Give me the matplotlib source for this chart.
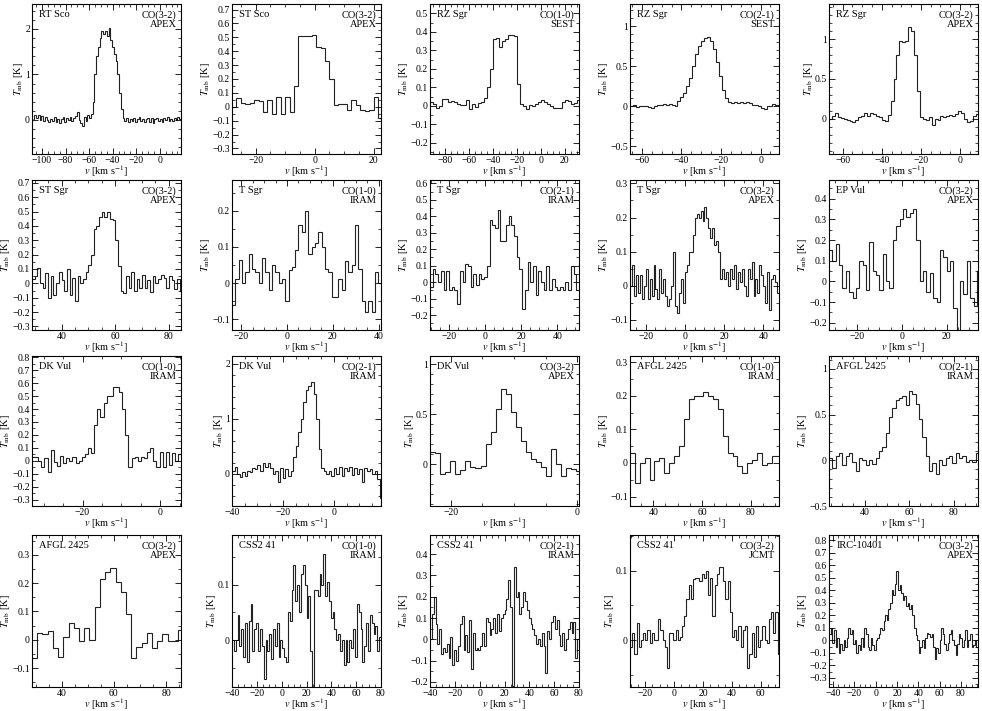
import numpy as np
import matplotlib
matplotlib.use("Agg")
import matplotlib.pyplot as plt
from matplotlib.ticker import MultipleLocator, AutoMinorLocator, FuncFormatter

plt.rcParams["font.family"] = ["Liberation Serif", "DejaVu Serif"]
plt.rcParams["mathtext.fontset"] = "stix"

# ---- spectra (T_mb in K, one value per channel) ----
rtsco_32 = [0.02, 0.1, 0.05, 0.1, 0.0, 0.08, -0.02, 0.06, 0.0, -0.05, 0.03, -0.02, 0.07, -0.04,
            0.02, -0.06, 0.01, 0.06, -0.04, 0.05, -0.01, 0.07, -0.03, 0.05, 0.08, 0.18, 0.0, -0.06,
            -0.13, 0.06, -0.02, 0.1, 0.04, 0.12, 0.4, 1.0, 1.4, 1.6, 1.8, 1.95, 1.9, 1.95, 1.85, 2.02,
            1.75, 1.6, 1.45, 1.3, 1.0, 0.6, 0.25, 0.05, -0.02, 0.05, -0.04, 0.03, -0.02, 0.04, -0.05,
            0.02, 0.06, -0.03, 0.03, -0.05, 0.02, 0.05, -0.04, 0.04, -0.06, 0.01, 0.05, -0.03, 0.02,
            -0.05, 0.04, 0.0, 0.06, -0.03, 0.03, -0.02, 0.05, 0.0, 0.07, 0.02]
stsco_32 = [0.0, 0.06, 0.03, 0.02, 0.03, 0.05, 0.04, -0.04, 0.05, -0.05, 0.07, -0.05, 0.07, -0.04,
            0.15, 0.51, 0.51, 0.51, 0.52, 0.43, 0.42, 0.33, 0.2, 0.01, 0.02, 0.02, -0.02, 0.05, 0.01,
            -0.02, -0.03, -0.02, 0.07, -0.08, 0.03]
rzsgr_10 = [0.02, 0.01, -0.01, 0.0, 0.035, 0.035, 0.02, 0.025, 0.02, 0.01, 0.005, 0.005, 0.03,
            -0.015, 0.01, -0.005, 0.015, 0.02, 0.045, 0.1, 0.2, 0.36, 0.365, 0.32, 0.35, 0.36, 0.38,
            0.38, 0.375, 0.12, 0.01, 0.0, -0.015, 0.005, 0.0, 0.01, 0.02, 0.03, 0.02, 0.01, 0.0,
            -0.01, -0.01, -0.01, 0.02, 0.03, 0.025, 0.01, 0.015, 0.03]
rzsgr_21 = [0.0, 0.01, -0.01, 0.0, 0.005, 0.0, -0.01, -0.02, 0.0, 0.01, 0.02, 0.03, 0.02, 0.03,
            0.02, 0.0, 0.06, 0.12, 0.17, 0.25, 0.35, 0.5, 0.65, 0.75, 0.82, 0.86, 0.87, 0.82, 0.72,
            0.55, 0.38, 0.2, 0.1, 0.05, 0.04, 0.05, 0.04, 0.05, 0.04, 0.05, 0.04, 0.02, 0.02, 0.0,
            -0.02, -0.03, 0.0, 0.0, 0.03, 0.02, 0.02]
rzsgr_32 = [0.0, 0.04, 0.08, 0.02, 0.01, 0.0, -0.02, -0.03, -0.04, -0.02, 0.02, 0.03, 0.07, 0.04,
            0.08, 0.06, 0.04, 0.02, -0.02, -0.03, 0.05, 0.22, 0.5, 0.8, 0.97, 0.96, 0.98, 1.15, 1.1,
            0.8, 0.35, 0.02, 0.0, -0.02, 0.02, -0.08, 0.0, -0.01, 0.03, 0.02, 0.03, 0.05, 0.03, 0.06,
            0.1, 0.07, 0.0, -0.04, -0.03, 0.03, 0.06]
stsgr_32 = [0.03, 0.05, 0.11, 0.0, -0.03, 0.07, -0.1, 0.05, -0.08, 0.0, 0.08, 0.02, -0.05, 0.1,
            -0.08, 0.04, -0.12, 0.05, 0.0, 0.03, 0.08, 0.13, 0.2, 0.38, 0.4, 0.46, 0.5, 0.46, 0.5,
            0.45, 0.44, 0.3, 0.12, -0.05, -0.07, 0.05, -0.03, 0.08, -0.05, 0.03, -0.03, 0.06, -0.03,
            0.02, -0.06, 0.05, 0.0, 0.03, 0.06, 0.04, -0.03, 0.05, 0.02, -0.04, 0.03, -0.05]
tsgr_10 = [-0.06, 0.01, 0.065, 0.0, 0.03, 0.08, 0.04, 0.03, 0.0, 0.07, 0.03, -0.02, 0.05, 0.03,
           0.0, 0.01, -0.05, 0.035, 0.045, 0.09, 0.16, 0.14, 0.2, 0.08, 0.1, 0.11, 0.14, 0.1, 0.04,
           0.03, -0.04, -0.04, 0.01, -0.02, 0.06, 0.03, 0.05, 0.16, 0.04, -0.05, -0.08, -0.05,
           -0.08, 0.03, 0.0]
tsgr_21 = [-0.03, 0.08, 0.05, 0.0, 0.07, -0.05, 0.07, -0.05, -0.03, -0.05, -0.13, 0.07, 0.0, 0.11,
           0.1, -0.03, 0.05, -0.02, 0.05, 0.02, 0.03, 0.1, 0.38, 0.35, 0.33, 0.44, 0.25, 0.25, 0.35,
           0.4, 0.35, 0.28, 0.15, 0.08, -0.16, -0.05, 0.12, 0.0, 0.1, -0.08, 0.07, 0.0, -0.05, 0.1,
           -0.05, 0.02, -0.03, -0.05, -0.03, -0.05, 0.0, -0.05, 0.1, 0.05, -0.05]
tsgr_32 = [0.0, 0.06, -0.03, 0.03, -0.02, 0.03, -0.04, 0.0, 0.05, -0.04, 0.02, -0.03, 0.06, -0.01,
           -0.04, 0.05, -0.02, 0.02, -0.03, -0.06, -0.04, 0.0, 0.1, -0.06, -0.08, -0.02, 0.02,
           -0.05, 0.04, 0.06, 0.1, 0.1, 0.15, 0.2, 0.21, 0.2, 0.22, 0.19, 0.23, 0.2, 0.17, 0.14,
           0.17, 0.12, 0.13, 0.1, 0.02, 0.05, 0.02, 0.04, 0.0, 0.05, 0.02, 0.06, -0.01, 0.04, 0.01,
           0.05, 0.0, -0.03, 0.05, 0.02, 0.07, -0.03, 0.02, -0.02, 0.06, 0.03, 0.0, -0.05, 0.04,
           -0.07, 0.02, 0.03, 0.01, -0.02]
epvul_32 = [0.15, 0.1, 0.18, 0.08, -0.03, 0.05, -0.05, -0.08, -0.03, 0.1, 0.08, -0.04, 0.19, 0.05,
            0.03, -0.04, 0.13, 0.0, -0.03, 0.2, 0.27, 0.3, 0.35, 0.31, 0.33, 0.35, 0.2, 0.0, 0.05,
            -0.05, 0.04, -0.08, -0.1, 0.15, 0.12, 0.05, 0.1, -0.13, -0.25, 0.0, -0.06, 0.1, -0.08,
            -0.12, 0.05]
dkvul_10 = [0.03, 0.03, 0.0, -0.05, 0.02, -0.09, 0.08, -0.01, -0.04, 0.04, -0.02, 0.02, 0.0, 0.03,
            -0.02, 0.0, 0.03, 0.05, 0.1, 0.06, 0.28, 0.4, 0.34, 0.45, 0.5, 0.5, 0.57, 0.57, 0.53,
            0.4, 0.2, -0.05, 0.02, 0.03, 0.0, 0.03, 0.02, 0.07, 0.1, 0.0, -0.05, 0.07, -0.05, 0.07,
            -0.03, 0.06, 0.0, 0.05]
dkvul_21 = [0.05, 0.12, 0.0, -0.06, 0.03, -0.04, 0.05, 0.02, 0.1, 0.08, 0.15, 0.05, 0.2, 0.12,
            0.2, 0.1, 0.0, 0.05, -0.15, 0.1, -0.08, 0.08, -0.05, 0.05, 0.3, 0.5, 0.75, 1.0, 1.3,
            1.52, 1.6, 1.66, 1.45, 1.0, 0.45, 0.1, 0.05, 0.0, 0.05, -0.05, 0.1, 0.0, 0.12, -0.05,
            0.1, 0.05, 0.12, -0.02, 0.1, 0.0, 0.08, -0.15, 0.1, 0.05, 0.08, 0.0, 0.05, -0.1, -0.45]
dkvul_32 = [0.12, 0.11, -0.1, -0.08, 0.03, -0.1, -0.06, 0.03, -0.03, -0.04, -0.02, 0.2, 0.32,
            0.55, 0.75, 0.7, 0.52, 0.37, 0.23, 0.12, 0.05, 0.02, -0.03, -0.12, 0.15, 0.0, -0.12,
            -0.04, -0.05, -0.07]
afgl_10 = [0.03, -0.06, 0.0, 0.015, -0.05, 0.005, 0.015, -0.03, 0.0, 0.02, 0.05, 0.13, 0.19, 0.2,
           0.2, 0.21, 0.2, 0.19, 0.16, 0.08, 0.03, 0.02, -0.01, -0.03, 0.0, 0.01, 0.03, -0.005,
           0.0, 0.02, 0.02]
afgl_21 = [0.03, -0.08, 0.05, 0.08, -0.05, 0.05, 0.08, -0.02, -0.12, 0.03, 0.0, -0.05, 0.0, -0.04,
           0.03, 0.1, 0.15, 0.3, 0.47, 0.57, 0.66, 0.68, 0.7, 0.6, 0.76, 0.72, 0.62, 0.45, 0.25,
           0.05, -0.12, -0.03, -0.15, 0.0, -0.05, 0.02, 0.05, -0.03, 0.08, 0.03, 0.05, -0.02, 0.0,
           -0.02, 0.08]
afgl_32 = [-0.065, 0.025, 0.02, 0.03, -0.03, -0.06, 0.01, 0.06, 0.04, -0.005, 0.04, 0.0, 0.115,
           0.215, 0.24, 0.255, 0.205, 0.17, 0.09, -0.065, -0.025, -0.01, 0.025, -0.03, -0.005,
           0.02, -0.005, -0.005, 0.035]
css_10 = [0.0, -0.02, 0.0, 0.045, -0.01, 0.02, -0.03, 0.03, -0.04, 0.035, 0.065, -0.02, 0.02,
          0.03, -0.02, 0.02, -0.01, -0.07, 0.0, -0.02, 0.01, -0.035, 0.02, -0.01, 0.03, -0.03, 0.0,
          -0.015, -0.03, -0.04, 0.05, 0.035, 0.09, 0.135, 0.07, 0.1, 0.05, 0.12, 0.135, 0.1, 0.04,
          0.08, -0.02, -0.09, 0.09, 0.09, 0.08, 0.12, 0.1, 0.155, 0.08, 0.105, 0.07, 0.04, 0.05,
          0.02, 0.0, 0.01, -0.02, 0.0, -0.045, 0.0, -0.04, 0.0, -0.015, 0.02, -0.03, 0.065, 0.05,
          0.02, -0.04, -0.01, 0.03, -0.02, 0.045, 0.03, 0.01, 0.025, -0.02, 0.005]
css_21 = [0.0, 0.12, 0.2, 0.07, -0.02, 0.05, -0.07, -0.04, -0.06, -0.02, -0.09, 0.01, -0.12,
          -0.05, -0.1, -0.03, 0.07, 0.11, -0.05, 0.02, -0.06, 0.09, -0.14, 0.03, -0.05, -0.04,
          -0.05, -0.03, 0.03, -0.03, 0.1, 0.08, 0.02, 0.05, 0.1, 0.03, 0.12, 0.04, 0.1, 0.12, 0.14,
          0.19, 0.28, 0.15, -0.22, 0.34, 0.2, 0.22, 0.12, 0.15, 0.22, 0.18, 0.14, 0.1, 0.07, 0.05,
          0.02, -0.02, 0.0, -0.03, 0.03, -0.03, -0.16, 0.04, 0.0, 0.08, 0.11, 0.05, 0.09, 0.02,
          -0.03, 0.03, -0.05, 0.0, 0.05, 0.08, 0.03, 0.08, -0.09, 0.0]
css_32 = [-0.01, 0.01, -0.02, 0.025, -0.01, 0.0, 0.01, 0.0, 0.015, -0.005, 0.01, 0.0, 0.0, 0.03,
          0.015, 0.0, -0.01, -0.04, 0.01, 0.01, 0.0, 0.015, 0.0, 0.005, 0.02, 0.035, 0.06, 0.08,
          0.06, 0.088, 0.09, 0.09, 0.085, 0.095, 0.09, 0.1, 0.065, 0.09, 0.035, 0.08, 0.095, 0.105,
          0.105, 0.085, 0.06, 0.085, 0.04, 0.005, 0.015, 0.0, 0.02, -0.01, 0.015, 0.02, -0.04,
          -0.02, 0.01, -0.025, 0.02, -0.01, 0.0, 0.02, 0.0, -0.005, 0.03, 0.04, 0.01, 0.04, -0.02]
irc_32 = [0.05, 0.1, -0.02, 0.08, -0.05, 0.02, -0.1, -0.03, -0.08, 0.0, -0.05, 0.02, 0.1, 0.05,
          0.08, -0.03, 0.0, -0.1, -0.04, -0.08, 0.02, -0.05, 0.1, 0.05, -0.05, -0.08, 0.02, -0.04,
          -0.08, 0.0, 0.02, 0.05, 0.1, 0.08, 0.15, 0.2, 0.16, 0.25, 0.3, 0.4, 0.36, 0.45, 0.55,
          0.4, 0.44, 0.38, 0.32, 0.35, 0.27, 0.3, 0.25, 0.28, 0.2, 0.1, 0.04, 0.0, -0.1, -0.05,
          0.0, -0.06, 0.02, 0.06, 0.05, 0.03, 0.05, -0.05, -0.15, -0.06, -0.1, 0.0, 0.1, 0.05,
          -0.03, -0.08, -0.02, 0.05, 0.08, 0.0, -0.04, -0.12, -0.03, 0.05, 0.02, -0.05, 0.0, 0.08,
          -0.05, 0.0, 0.05, -0.05, -0.04, 0.0, -0.05]

# (source, line, telescope, spectrum, v_start, channel width, xlim, ylim, y major step)
panels = [
    ("RT Sco", "CO(3-2)", "APEX", rtsco_32, -108.0, 1.5, (-108.5, 18), (-0.75, 2.55), 1.0),
    ("ST Sco", "CO(3-2)", "APEX", stsco_32, -28.0, 1.5, (-28, 22.5), (-0.34, 0.74), 0.1),
    ("RZ Sgr", "CO(1-0)", "SEST", rzsgr_10, -92.0, 2.5, (-92.4, 32), (-0.26, 0.55), 0.1),
    ("RZ Sgr", "CO(2-1)", "SEST", rzsgr_21, -66.0, 1.5, (-66, 9.3), (-0.6, 1.28), 0.5),
    ("RZ Sgr", "CO(3-2)", "APEX", rzsgr_32, -67.0, 1.5, (-67, 9.2), (-0.44, 1.44), 0.5),
    ("ST Sgr", "CO(3-2)", "APEX", stsgr_32, 29.0, 1.0, (29, 84.5), (-0.325, 0.72), 0.1),
    ("T Sgr", "CO(1-0)", "IRAM", tsgr_10, -24.0, 1.45, (-24, 41), (-0.13, 0.285), 0.1),
    ("T Sgr", "CO(2-1)", "IRAM", tsgr_21, -30.5, 1.5, (-30.5, 52), (-0.29, 0.62), 0.1),
    ("T Sgr", "CO(3-2)", "APEX", tsgr_32, -28.0, 1.0, (-28, 48), (-0.13, 0.31), 0.1),
    ("EP Vul", "CO(3-2)", "APEX", epvul_32, -32.5, 1.5, (-32.5, 34), (-0.235, 0.49), 0.1),
    ("DK Vul", "CO(1-0)", "IRAM", dkvul_10, -33.0, 0.8, (-33, 5.3), (-0.35, 0.81), 0.1),
    ("DK Vul", "CO(2-1)", "IRAM", dkvul_21, -40.0, 1.0, (-40, 18.5), (-0.59, 2.14), 1.0),
    ("DK Vul", "CO(3-2)", "APEX", dkvul_32, -23.3, 0.8, (-23.3, 0.3), (-0.42, 1.08), 0.5),
    ("AFGL 2425", "CO(1-0)", "IRAM", afgl_10, 30.5, 2.0, (30.5, 91.5), (-0.128, 0.318), 0.1),
    ("AFGL 2425", "CO(2-1)", "IRAM", afgl_21, 24.0, 1.5, (24, 91), (-0.5, 1.14), 0.5),
    ("AFGL 2425", "CO(3-2)", "APEX", afgl_32, 28.6, 2.0, (28.6, 85.7), (-0.167, 0.37), 0.1),
    ("CSS2 41", "CO(1-0)", "IRAM", css_10, -40.0, 1.5, (-40, 80), (-0.085, 0.19), 0.1),
    ("CSS2 41", "CO(2-1)", "IRAM", css_21, -40.0, 1.5, (-40, 80), (-0.224, 0.49), 0.1),
    ("CSS2 41", "CO(3-2)", "JCMT", css_32, -30.5, 1.5, (-30.5, 72.5), (-0.068, 0.152), 0.1),
    ("IRC-10401", "CO(3-2)", "APEX", irc_32, -43.5, 1.5, (-43.7, 96), (-0.373, 0.84), 0.1),
]

W, H = 982, 711
col_left = [32, 232, 430, 630, 829]
row_top = [4, 180, 356, 535]
row_h = [150, 150, 150, 152]
ax_w = 149


def fmt(x, pos):
    s = "%g" % round(x, 3)
    return s.replace("-", "\u2212")


fig = plt.figure(figsize=(W / 100, H / 100), dpi=100)

for k, (src, line, tel, spec, v0, dv, xl, yl, ystep) in enumerate(panels):
    r, c = divmod(k, 5)
    rect = [col_left[c] / W, 1 - (row_top[r] + row_h[r]) / H, ax_w / W, row_h[r] / H]
    ax = fig.add_axes(rect)
    spec = np.asarray(spec)
    edges = v0 + dv * np.arange(len(spec) + 1)
    ax.stairs(spec, edges, baseline=None, color="#222222", lw=0.8)
    ax.set_xlim(*xl)
    ax.set_ylim(*yl)

    ax.xaxis.set_major_locator(MultipleLocator(20))
    ax.xaxis.set_minor_locator(AutoMinorLocator(4))
    ax.yaxis.set_major_locator(MultipleLocator(ystep))
    ax.yaxis.set_minor_locator(AutoMinorLocator(5 if ystep >= 0.5 else 2))
    ax.xaxis.set_major_formatter(FuncFormatter(fmt))
    ax.yaxis.set_major_formatter(FuncFormatter(fmt))
    ax.tick_params(which="both", direction="in", top=True, right=True, labelsize=7, pad=1.5)
    ax.tick_params(which="major", length=4, width=0.6)
    ax.tick_params(which="minor", length=2, width=0.5)
    for sp in ax.spines.values():
        sp.set_linewidth(0.8)

    ax.set_xlabel(r"$v$ [km s$^{-1}$]", fontsize=7.5, labelpad=-1)
    ax.set_ylabel(r"$T_{\rm mb}$ [K]", fontsize=7.5, labelpad=0)

    ax.text(0.05, 0.96, src, transform=ax.transAxes, ha="left", va="top", fontsize=7.5)
    ax.text(0.97, 0.96, line + "\n" + tel, transform=ax.transAxes, ha="right", va="top",
            fontsize=7.5, linespacing=1.0)

fig.savefig("out.png", dpi=100)
